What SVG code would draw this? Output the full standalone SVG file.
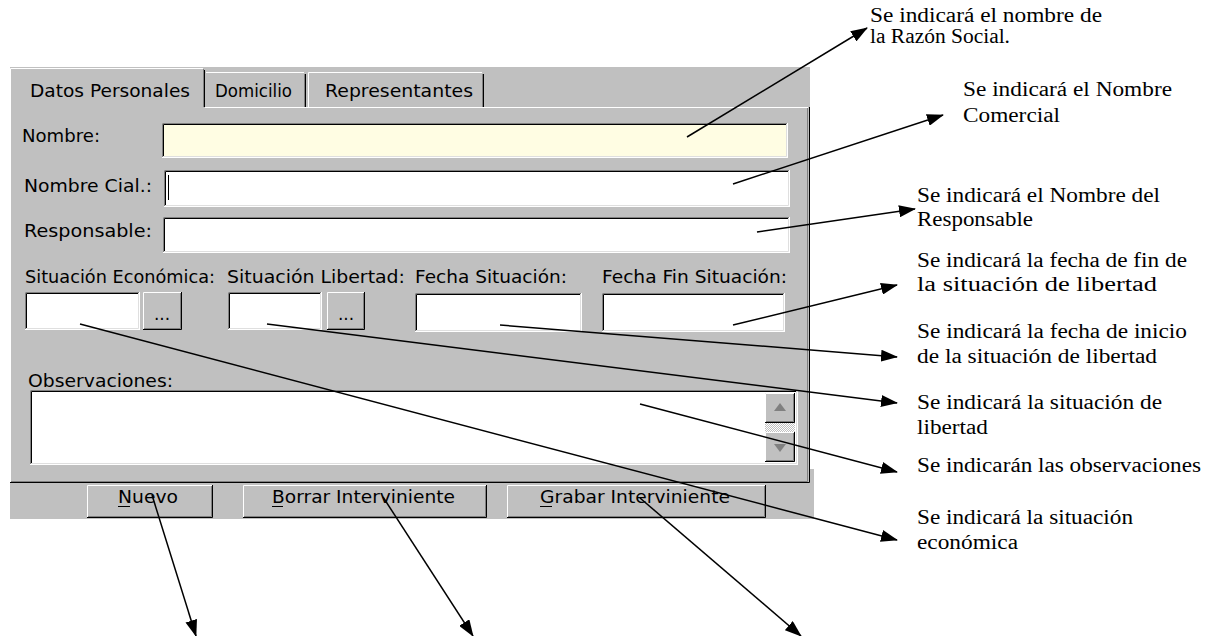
<svg xmlns="http://www.w3.org/2000/svg" width="1214" height="636" viewBox="0 0 1214 636">
<style>
.ui{font-family:"DejaVu Sans","Liberation Sans",sans-serif;font-size:17px;fill:#000}
.ann{font-family:"Liberation Serif","Times New Roman",serif;font-size:20px;fill:#000}
.g{fill:#c0c0c0}
.w{stroke:#fff;fill:none}
.k{stroke:#000;fill:none}
.s{stroke:#808080;fill:none}
.li{stroke:#dfdfdf;fill:none}
.cn line{stroke:#000;stroke-width:1.5;marker-end:url(#ah)}
</style>
<defs>
<marker id="ah" markerUnits="userSpaceOnUse" markerWidth="17" markerHeight="12" refX="16" refY="6" orient="auto"><path d="M0,0 L17,6 L0,12 z" fill="#000"/></marker>
<pattern id="chk" width="2" height="2" patternUnits="userSpaceOnUse"><rect width="2" height="2" fill="#c0c0c0"/><rect width="1" height="1" fill="#fff"/><rect x="1" y="1" width="1" height="1" fill="#fff"/></pattern>
</defs>
<rect width="1214" height="636" fill="#fff"/>

<g id="window">
<rect x="10" y="67" width="800" height="416" class="g"/>
<rect x="10" y="483" width="804" height="36" class="g"/>
<rect x="810" y="469" width="4" height="14" class="g"/>
<path class="w" d="M10.5,483 V107.5 M205,107.5 H808"/>
<path class="s" d="M807.5,108 V481.5 H11"/>
<path class="k" d="M809.5,107 V482.5 H10"/>
</g>

<g id="tab-datos">
<path class="w" d="M10.5,108 V68.5 H203"/>
<path class="s" d="M203.5,69 V107"/>
<path class="k" d="M204.5,70 V107"/>
<text class="ui" x="30" y="97" textLength="160" lengthAdjust="spacingAndGlyphs">Datos Personales</text>
</g>
<g id="tab-domicilio">
<path class="w" d="M206,72.5 H304"/>
<path class="s" d="M304.5,74 V107"/>
<path class="k" d="M305.5,74 V107"/>
<text class="ui" x="215" y="97" textLength="77" lengthAdjust="spacingAndGlyphs">Domicilio</text>
</g>
<g id="tab-representantes">
<path class="w" d="M308.5,107 V72.5 H482"/>
<path class="s" d="M482.5,74 V107"/>
<path class="k" d="M483.5,74 V107"/>
<text class="ui" x="325" y="97" textLength="148" lengthAdjust="spacingAndGlyphs">Representantes</text>
</g>

<g id="field-nombre">
<text class="ui" x="22" y="142" textLength="78" lengthAdjust="spacingAndGlyphs">Nombre:</text>
<rect x="162" y="123" width="626" height="35" fill="#fffde3"/>
<path class="s" d="M162.5,158 V123.5 H788"/>
<path class="k" d="M163.5,157 V124.5 H787"/>
<path class="w" d="M162,157.5 H787.5 V123"/>
<path class="li" d="M163,156.5 H786.5 V124"/>
</g>
<g id="field-nombre-cial">
<text class="ui" x="24" y="192" textLength="128" lengthAdjust="spacingAndGlyphs">Nombre Cial.:</text>
<rect x="164" y="170" width="626" height="37" fill="#fff"/>
<path class="s" d="M164.5,207 V170.5 H790"/>
<path class="k" d="M165.5,206 V171.5 H789"/>
<path class="w" d="M164,206.5 H789.5 V170"/>
<path class="li" d="M165,205.5 H788.5 V171"/>
<path class="k" d="M168.5,175 V200"/>
</g>
<g id="field-responsable">
<text class="ui" x="24" y="237" textLength="128" lengthAdjust="spacingAndGlyphs">Responsable:</text>
<rect x="163" y="217" width="627" height="36" fill="#fff"/>
<path class="s" d="M163.5,253 V217.5 H790"/>
<path class="k" d="M164.5,252 V218.5 H789"/>
<path class="w" d="M163,252.5 H789.5 V217"/>
<path class="li" d="M164,251.5 H788.5 V218"/>
</g>

<g id="field-sit-economica">
<text class="ui" x="25" y="283" textLength="190" lengthAdjust="spacingAndGlyphs">Situación Económica:</text>
<rect x="25" y="292" width="115" height="38" fill="#fff"/>
<path class="s" d="M25.5,330 V292.5 H140"/>
<path class="k" d="M26.5,329 V293.5 H139"/>
<path class="w" d="M25,329.5 H139.5 V292"/>
<path class="li" d="M26,328.5 H138.5 V293"/>
<rect x="143" y="292" width="39" height="38" class="g"/>
<path class="w" d="M143.5,330 V292.5 H182"/>
<path class="k" d="M143,329.5 H181.5 V292"/>
<path class="s" d="M144,328.5 H180.5 V293"/>
<text class="ui" x="162" y="320" text-anchor="middle">...</text>
</g>
<g id="field-sit-libertad">
<text class="ui" x="227" y="283" textLength="178" lengthAdjust="spacingAndGlyphs">Situación Libertad:</text>
<rect x="228" y="292" width="94" height="38" fill="#fff"/>
<path class="s" d="M228.5,330 V292.5 H322"/>
<path class="k" d="M229.5,329 V293.5 H321"/>
<path class="w" d="M228,329.5 H321.5 V292"/>
<path class="li" d="M229,328.5 H320.5 V293"/>
<rect x="327" y="292" width="38" height="38" class="g"/>
<path class="w" d="M327.5,330 V292.5 H365"/>
<path class="k" d="M327,329.5 H364.5 V292"/>
<path class="s" d="M328,328.5 H363.5 V293"/>
<text class="ui" x="346" y="320" text-anchor="middle">...</text>
</g>
<g id="field-fecha-situacion">
<text class="ui" x="415" y="283" textLength="152" lengthAdjust="spacingAndGlyphs">Fecha Situación:</text>
<rect x="415" y="293" width="167" height="39" fill="#fff"/>
<path class="s" d="M415.5,332 V293.5 H582"/>
<path class="k" d="M416.5,331 V294.5 H581"/>
<path class="w" d="M415,331.5 H581.5 V293"/>
<path class="li" d="M416,330.5 H580.5 V294"/>
</g>
<g id="field-fecha-fin">
<text class="ui" x="602" y="283" textLength="185" lengthAdjust="spacingAndGlyphs">Fecha Fin Situación:</text>
<rect x="602" y="293" width="183" height="39" fill="#fff"/>
<path class="s" d="M602.5,332 V293.5 H785"/>
<path class="k" d="M603.5,331 V294.5 H784"/>
<path class="w" d="M602,331.5 H784.5 V293"/>
<path class="li" d="M603,330.5 H783.5 V294"/>
</g>

<g id="field-observaciones">
<text class="ui" x="28" y="387" textLength="145" lengthAdjust="spacingAndGlyphs">Observaciones:</text>
<rect x="30" y="390" width="768" height="75" fill="#fff"/>
<path class="s" d="M30.5,465 V390.5 H798"/>
<path class="k" d="M31.5,464 V391.5 H797"/>
<path class="w" d="M30,464.5 H797.5 V390"/>
<path class="li" d="M31,463.5 H796.5 V391"/>
<rect x="765" y="423" width="30" height="9" fill="url(#chk)"/>
<rect x="765" y="393" width="30" height="30" class="g"/>
<path class="w" d="M765.5,423 V393.5 H795"/>
<path class="k" d="M765,422.5 H794.5 V393"/>
<path class="s" d="M766,421.5 H793.5 V394"/>
<path d="M780,403 L786,411 H774 z" fill="#808080"/>
<rect x="765" y="432" width="30" height="30" class="g"/>
<path class="w" d="M765.5,462 V432.5 H795"/>
<path class="k" d="M765,461.5 H794.5 V432"/>
<path class="s" d="M766,460.5 H793.5 V433"/>
<path d="M780,452 L786,444 H774 z" fill="#808080"/>
</g>

<g id="btn-nuevo">
<rect x="87" y="485" width="126" height="33" class="g"/>
<path class="w" d="M87.5,518 V485.5 H213"/>
<path class="k" d="M87,517.5 H212.5 V485"/>
<path class="s" d="M88,516.5 H211.5 V486"/>
<text class="ui" x="118" y="503" textLength="60" lengthAdjust="spacingAndGlyphs">Nuevo</text>
<path class="k" d="M118,506.5 H130"/>
</g>
<g id="btn-borrar">
<rect x="243" y="485" width="244" height="33" class="g"/>
<path class="w" d="M243.5,518 V485.5 H487"/>
<path class="k" d="M243,517.5 H486.5 V485"/>
<path class="s" d="M244,516.5 H485.5 V486"/>
<text class="ui" x="272" y="503" textLength="183" lengthAdjust="spacingAndGlyphs">Borrar Interviniente</text>
<path class="k" d="M272,506.5 H283"/>
</g>
<g id="btn-grabar">
<rect x="507" y="485" width="259" height="33" class="g"/>
<path class="w" d="M507.5,518 V485.5 H766"/>
<path class="k" d="M507,517.5 H765.5 V485"/>
<path class="s" d="M508,516.5 H764.5 V486"/>
<text class="ui" x="540" y="503" textLength="190" lengthAdjust="spacingAndGlyphs">Grabar Interviniente</text>
<path class="k" d="M540,506.5 H552"/>
</g>

<g id="connectors" class="cn">
<line x1="687" y1="137" x2="867" y2="28"/>
<line x1="733" y1="184" x2="943" y2="115"/>
<line x1="757" y1="232" x2="915" y2="209"/>
<line x1="733" y1="325" x2="897" y2="285"/>
<line x1="500" y1="325" x2="897" y2="357"/>
<line x1="267" y1="324" x2="897" y2="403"/>
<line x1="640" y1="404" x2="897" y2="472"/>
<line x1="80" y1="324" x2="897" y2="540"/>
<line x1="152" y1="495" x2="196" y2="636"/>
<line x1="383" y1="497" x2="473" y2="636"/>
<line x1="640" y1="498" x2="801" y2="636"/>
</g>

<g id="note-razon-social"><text class="ann" x="870" y="22" textLength="232" lengthAdjust="spacingAndGlyphs">Se indicará el nombre de</text><text class="ann" x="870" y="43" textLength="140" lengthAdjust="spacingAndGlyphs">la Razón Social.</text></g>
<g id="note-nombre-comercial"><text class="ann" x="963" y="96" textLength="209" lengthAdjust="spacingAndGlyphs">Se indicará el Nombre</text><text class="ann" x="963" y="122" textLength="97" lengthAdjust="spacingAndGlyphs">Comercial</text></g>
<g id="note-responsable"><text class="ann" x="917" y="202" textLength="243" lengthAdjust="spacingAndGlyphs">Se indicará el Nombre del</text><text class="ann" x="917" y="226" textLength="116" lengthAdjust="spacingAndGlyphs">Responsable</text></g>
<g id="note-fecha-fin"><text class="ann" x="917" y="267" textLength="270" lengthAdjust="spacingAndGlyphs">Se indicará la fecha de fin de</text><text class="ann" x="917" y="291" textLength="240" lengthAdjust="spacingAndGlyphs">la situación de libertad</text></g>
<g id="note-fecha-inicio"><text class="ann" x="917" y="338" textLength="270" lengthAdjust="spacingAndGlyphs">Se indicará la fecha de inicio</text><text class="ann" x="917" y="363" textLength="240" lengthAdjust="spacingAndGlyphs">de la situación de libertad</text></g>
<g id="note-sit-libertad"><text class="ann" x="917" y="409" textLength="245" lengthAdjust="spacingAndGlyphs">Se indicará la situación de</text><text class="ann" x="917" y="434" textLength="71" lengthAdjust="spacingAndGlyphs">libertad</text></g>
<g id="note-observaciones"><text class="ann" x="917" y="472" textLength="284" lengthAdjust="spacingAndGlyphs">Se indicarán las observaciones</text></g>
<g id="note-sit-economica"><text class="ann" x="917" y="524" textLength="216" lengthAdjust="spacingAndGlyphs">Se indicará la situación</text><text class="ann" x="917" y="549" textLength="101" lengthAdjust="spacingAndGlyphs">económica</text></g>
</svg>
